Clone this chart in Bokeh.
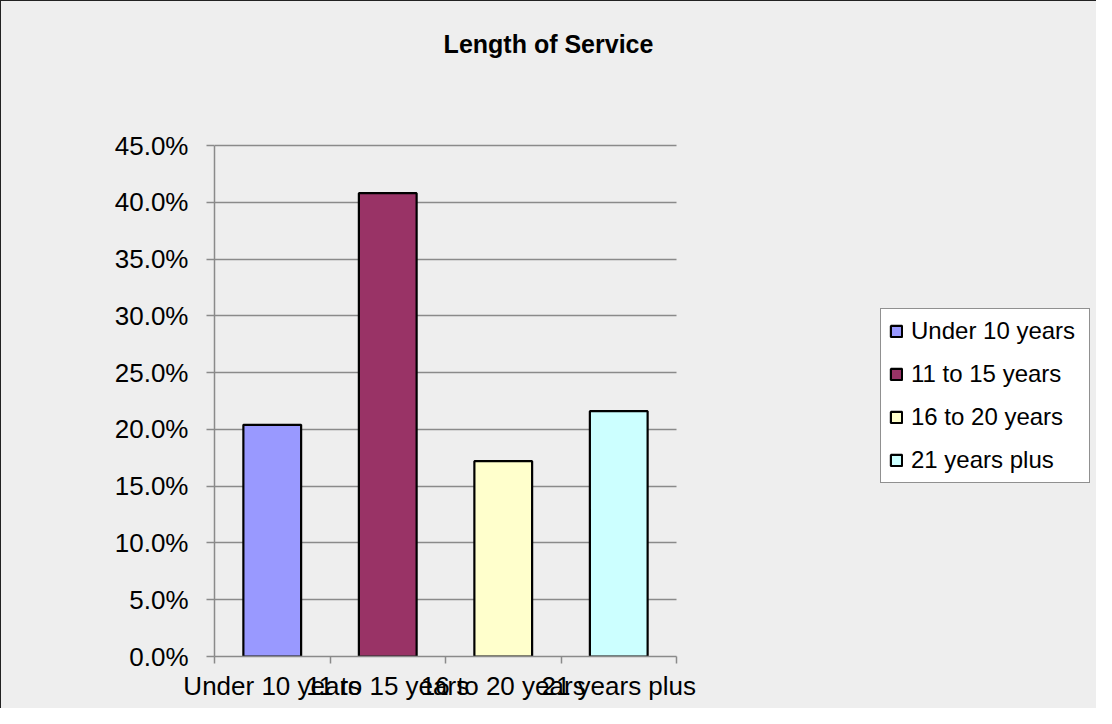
import numpy as np
from bokeh.plotting import figure
from bokeh.models import (ColumnDataSource, Range1d, FixedTicker, NumeralTickFormatter,
                          CustomJSTickFormatter, Label, Legend, LegendItem, BoxAnnotation)
from bokeh.embed import file_html
from bokeh.resources import INLINE

title = "Length of Service"
categories = ["Under 10 years", "11 to 15 years", "16 to 20 years", "21 years plus"]
shares = [0.204, 0.408, 0.172, 0.216]
colors = ["#9999FF", "#993366", "#FFFFCC", "#CCFFFF"]
y_ticks = [0.0, 0.05, 0.10, 0.15, 0.20, 0.25, 0.30, 0.35, 0.40, 0.45]
y_max = 0.45

FONT = "Liberation Sans"
GRID = "#8a8a8a"
BG = "#eeeeee"

# layout in pixels
W, H = 1096, 708
LEFT = 213            # frame left edge
BOTTOM = 53           # space below frame
AXIS_W = 462          # width of the category axis
AXIS_H = 511          # height of 0..45%
frame_w = W - LEFT
frame_h = H - BOTTOM
n = len(categories)
x_end = -0.5 + n * frame_w / AXIS_W
y_end = y_max * frame_h / AXIS_H

xs = np.arange(n)
source = ColumnDataSource(dict(x=xs, top=shares, color=colors, label=categories))

p = figure(width=W, height=H, output_backend="svg", toolbar_location=None,
           x_range=Range1d(-0.5, x_end), y_range=Range1d(0, y_end),
           min_border_left=LEFT, min_border_right=0, min_border_top=0, min_border_bottom=BOTTOM)
# one uniform page-coloured background behind the transparent canvas (no seams)
p.background_fill_alpha = 0.0
p.border_fill_alpha = 0.0
p.outline_line_color = None
p.styles = {"background-color": BG,
            "border-left": "1px solid #222222", "border-top": "1px solid #222222"}

r = p.vbar(x="x", top="top", width=0.5, source=source, fill_color="color",
           line_color="black", line_width=2.2)

# y axis
yax = p.yaxis[0]
yax.ticker = FixedTicker(ticks=y_ticks)
yax.bounds = (0, y_max)
yax.formatter = NumeralTickFormatter(format="0.0%")
yax.axis_line_color = GRID
yax.axis_line_width = 1.5
yax.major_tick_line_color = GRID
yax.major_tick_line_width = 1.5
yax.major_tick_out = 8
yax.major_tick_in = 0
yax.minor_tick_line_color = None
yax.major_label_standoff = 18
yax.major_label_text_font = FONT
yax.major_label_text_font_size = "26px"
yax.major_label_text_color = "black"

# x axis
xax = p.xaxis[0]
xax.ticker = FixedTicker(ticks=list(xs), minor_ticks=list(np.arange(n + 1) - 0.5))
xax.bounds = (-0.5, n - 0.5)
xax.formatter = CustomJSTickFormatter(args=dict(labels=categories),
                                      code="const i = Math.round(tick); return (i >= 0 && i < labels.length) ? labels[i] : '';")
xax.axis_line_color = GRID
xax.axis_line_width = 1.5
xax.major_tick_out = 0
xax.major_tick_in = 0
xax.major_tick_line_color = None
xax.minor_tick_out = 7
xax.minor_tick_in = 0
xax.minor_tick_line_color = GRID
xax.minor_tick_line_width = 1.5
xax.major_label_standoff = 7
xax.major_label_text_font = FONT
xax.major_label_text_font_size = "26px"
xax.major_label_text_color = "black"

p.xgrid.grid_line_color = None
p.ygrid.ticker = FixedTicker(ticks=y_ticks[1:])   # the 0% line is the x axis itself
p.ygrid.grid_line_color = GRID
p.ygrid.grid_line_width = 1.5

# hide the grid lines to the right of the category axis
p.add_layout(BoxAnnotation(left=n - 0.5, fill_color=BG, fill_alpha=1.0,
                           line_color=None, level="underlay"))

# title
p.add_layout(Label(x=334, y=613, x_units="screen", y_units="screen", text=title,
                   text_align="center", text_baseline="alphabetic", text_font=FONT,
                   text_font_style="bold", text_font_size="25px", text_color="black"))

# legend
items = [LegendItem(label=c, renderers=[r], index=i) for i, c in enumerate(categories)]
legend = Legend(items=items, location=(666, 173), orientation="vertical",
                label_text_font=FONT, label_text_font_size="24px", label_text_color="black",
                glyph_width=14, glyph_height=14, label_standoff=8, label_width=170,
                spacing=15, padding=8,
                margin=0, background_fill_color="white", background_fill_alpha=1.0,
                border_line_color="#222222", border_line_width=1)
p.add_layout(legend, "center")

open("out.html", "w").write(file_html(p, INLINE))
